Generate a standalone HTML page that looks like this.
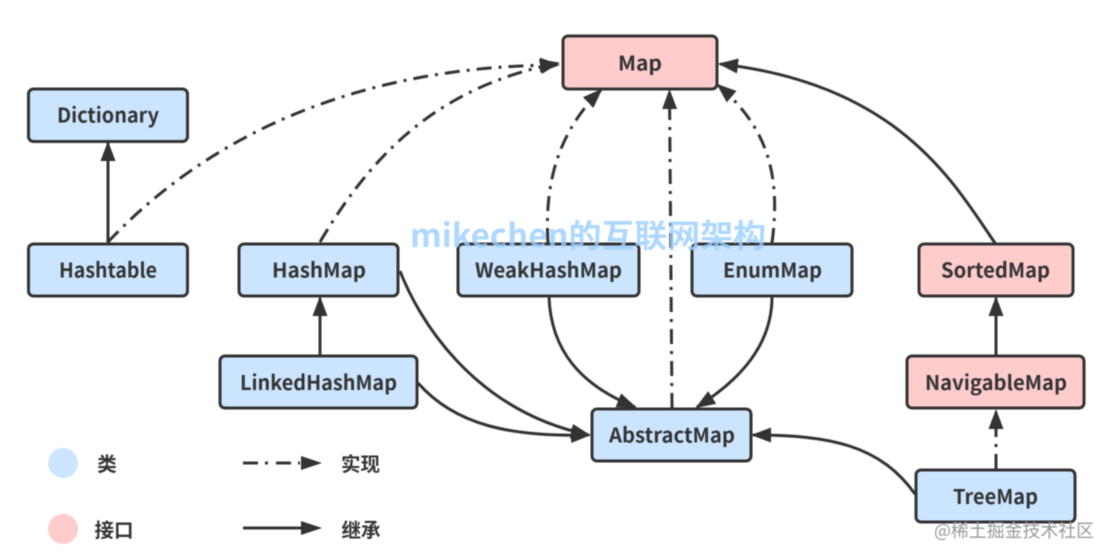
<!DOCTYPE html>
<html><head><meta charset="utf-8"><style>
html,body{margin:0;padding:0;background:#fff;width:1111px;height:559px;overflow:hidden}
svg{display:block;filter:blur(.4px)}
text{font-family:"Noto Sans CJK SC","Liberation Sans",sans-serif;font-weight:700;fill:#333;text-anchor:middle}
.b{fill:#cce5ff;stroke:#333;stroke-width:3}
.p{fill:#ffcccc;stroke:#333;stroke-width:3}
.s,.d{fill:none;stroke:#333;stroke-width:3}
.d{stroke-dasharray:15 7 3 7}
.n{font-size:20.500px}
.l{font-size:19.500px}
</style></head><body>
<svg width="1111" height="559" viewBox="0 0 1111 559" xmlns="http://www.w3.org/2000/svg">
<defs>
<marker id="a" markerUnits="userSpaceOnUse" markerWidth="24" markerHeight="18" refX="18" refY="7.5" orient="auto"><path d="M0 0L20 7.5L0 15Z" fill="#333"/></marker>
</defs>
<rect class="b" x="28.500" y="89" width="159" height="52.500" rx="5"/>
<rect class="b" x="28.500" y="244" width="159" height="52" rx="5"/>
<rect class="b" x="239" y="244" width="159" height="52" rx="5"/>
<rect class="b" x="458" y="244" width="181" height="52" rx="5"/>
<rect class="b" x="692" y="244" width="160" height="52" rx="5"/>
<rect class="p" x="919" y="244" width="154" height="52" rx="5"/>
<rect class="p" x="563" y="36" width="154" height="53" rx="5"/>
<rect class="b" x="220" y="356" width="197" height="52" rx="5"/>
<rect class="p" x="907" y="356" width="177" height="52" rx="5"/>
<rect class="b" x="592" y="409" width="159" height="52" rx="5"/>
<rect class="b" x="916" y="470" width="159" height="52" rx="5"/>

<path class="s" marker-end="url(#a)" d="M108 243L108 143"/>
<path class="d" marker-end="url(#a)" d="M108 242C190 155 330 66 558 65"/>
<path class="d" marker-end="url(#a)" d="M320 242C380 140 450 85 558 63"/>
<path class="d" marker-end="url(#a)" d="M548 243C544 180 560 130 601 90"/>
<path class="d" marker-end="url(#a)" d="M672 408L669.500 91"/>
<path class="d" marker-end="url(#a)" d="M772 243C781 175 768 128 718 85"/>
<path class="s" marker-end="url(#a)" d="M995 243C955 185 900 84 720 64"/>
<path class="s" marker-end="url(#a)" d="M400 271C417 315 470 410 589 435"/>
<path class="s" marker-end="url(#a)" d="M418 383C455 425 510 437 589 435"/>
<path class="s" marker-end="url(#a)" d="M549 297C551 350 580 385 635 407"/>
<path class="s" marker-end="url(#a)" d="M772 297C772 345 740 380 697 407"/>
<path class="s" marker-end="url(#a)" d="M915 494C880 445 830 435 753 435"/>
<path class="s" marker-end="url(#a)" d="M320 355L320 298"/>
<path class="s" marker-end="url(#a)" d="M996 355L996 298"/>
<path class="d" marker-end="url(#a)" d="M996 469L996 411"/>

<text class="n" x="108" y="122.500" textLength="102" lengthAdjust="spacingAndGlyphs">Dictionary</text>
<text class="n" x="108" y="277.500" textLength="98" lengthAdjust="spacingAndGlyphs">Hashtable</text>
<text class="n" x="319" y="277.500" textLength="94" lengthAdjust="spacingAndGlyphs">HashMap</text>
<text class="n" x="548.500" y="277.500" textLength="147" lengthAdjust="spacingAndGlyphs">WeakHashMap</text>
<text class="n" x="772.500" y="277.500" textLength="99" lengthAdjust="spacingAndGlyphs">EnumMap</text>
<text class="n" x="995.500" y="277.500" textLength="109" lengthAdjust="spacingAndGlyphs">SortedMap</text>
<text class="n" x="640" y="70.500" textLength="44" lengthAdjust="spacingAndGlyphs">Map</text>
<text class="n" x="318.500" y="390" textLength="157" lengthAdjust="spacingAndGlyphs">LinkedHashMap</text>
<text class="n" x="996" y="390" textLength="142" lengthAdjust="spacingAndGlyphs">NavigableMap</text>
<text class="n" x="672" y="442.500" textLength="126" lengthAdjust="spacingAndGlyphs">AbstractMap</text>
<text class="n" x="995.500" y="504" textLength="85" lengthAdjust="spacingAndGlyphs">TreeMap</text>

<circle cx="63" cy="463" r="15" fill="#cce5ff"/>
<circle cx="63" cy="529" r="15" fill="#ffcccc"/>
<text class="l" x="107" y="471">类</text>
<text class="l" x="114" y="537">接口</text>
<path class="d" style="stroke-dasharray:15 7 3 8" d="M243 463L300 463"/>
<path fill="#333" d="M301 456L322 463L301 470Z"/>
<path class="s" d="M243 528L302 528"/>
<path fill="#333" d="M301 521L322 528L301 535Z"/>
<text class="l" x="360.500" y="471">实现</text>
<text class="l" x="361" y="537">继承</text>

<text x="588" y="247" style="font-size:32px;fill:#99ceff;fill-opacity:.8" textLength="356" lengthAdjust="spacingAndGlyphs">mikechen的互联网架构</text>
<text x="1014" y="537" style="font-size:18px;font-weight:400;fill:#999" textLength="160" lengthAdjust="spacingAndGlyphs">@稀土掘金技术社区</text>
</svg>
</body></html>
